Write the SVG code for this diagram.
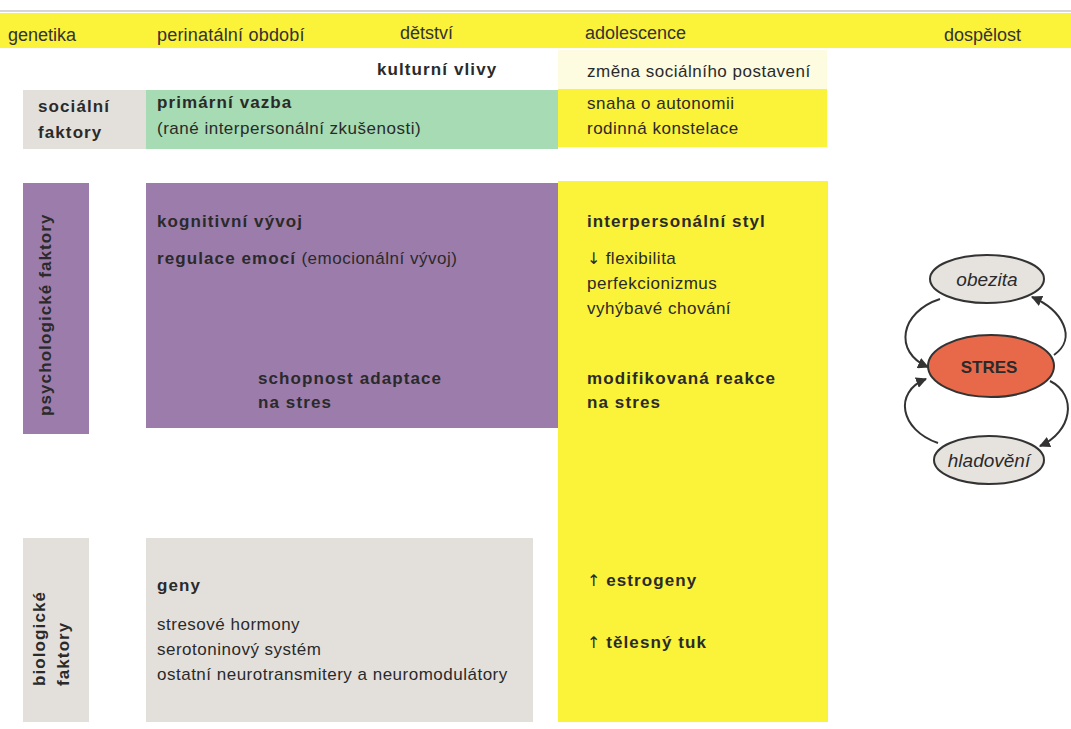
<svg xmlns="http://www.w3.org/2000/svg" width="1071" height="729" viewBox="0 0 1071 729">
<style>
text{font-family:"Liberation Sans",Arial,sans-serif;fill:#2a2a2a;font-size:17px}
.h{font-size:18px;fill:#333}
.b{font-weight:bold;letter-spacing:1.1px}
.n{letter-spacing:0.5px}
.i{font-style:italic;font-size:19px}
.arr{font-family:"DejaVu Sans",sans-serif;font-weight:normal;font-size:16px;letter-spacing:0}
.yel{fill:#fbf23a}
.pale{fill:#fdfbe0}
.gray{fill:#e3e0dc}
.pur{fill:#9c7cab}
.grn{fill:#a6dbb3}
.conn{fill:none;stroke:#333;stroke-width:2}
</style>
<defs>
<marker id="ah" viewBox="0 0 10 10" refX="9" refY="5" markerWidth="11" markerHeight="11" orient="auto" markerUnits="userSpaceOnUse">
<path d="M0,0 L10,5 L0,10 z" fill="#333"/>
</marker>
</defs>
<rect width="1071" height="729" fill="#ffffff"/>
<line x1="0" y1="11" x2="1071" y2="11" stroke="#c8c8c8" stroke-width="1.5"/>
<g id="header">
<rect x="0" y="13" width="1071" height="35" class="yel"/>
<text x="8" y="41" class="h">genetika</text>
<text x="157" y="41" class="h" style="letter-spacing:0.2px">perinatální období</text>
<text x="400" y="39" class="h">dětství</text>
<text x="585" y="39" class="h">adolescence</text>
<text x="944" y="41" class="h">dospělost</text>
</g>
<g id="kulturni">
<text x="377" y="75" class="b">kulturní vlivy</text>
</g>
<g id="zmena">
<rect x="558" y="50" width="269" height="39" class="pale"/>
<text x="587" y="77" class="n">změna sociálního postavení</text>
</g>
<g id="socialni-label">
<rect x="23" y="90" width="123" height="59" class="gray"/>
<text x="38" y="112" class="b">sociální</text>
<text x="38" y="138" class="b">faktory</text>
</g>
<g id="primarni-vazba">
<rect x="146" y="90" width="412" height="59" class="grn"/>
<text x="157" y="108" class="b">primární vazba</text>
<text x="157" y="134" class="n">(rané interpersonální zkušenosti)</text>
</g>
<g id="autonomie">
<rect x="558" y="89" width="269" height="58" class="yel"/>
<text x="587" y="109" class="n">snaha o autonomii</text>
<text x="587" y="134" class="n">rodinná konstelace</text>
</g>
<g id="psych-label">
<rect x="23" y="183" width="66" height="251" class="pur"/>
<text transform="translate(51,416) rotate(-90)" class="b">psychologické faktory</text>
</g>
<g id="psych-main">
<rect x="146" y="183" width="412" height="245" class="pur"/>
<text x="157" y="227" class="b">kognitivní vývoj</text>
<text x="157" y="264"><tspan class="b">regulace emocí</tspan><tspan class="n"> (emocionální vývoj)</tspan></text>
<text x="258" y="384" class="b">schopnost adaptace</text>
<text x="258" y="408" class="b">na stres</text>
</g>
<g id="adolescence-col">
<rect x="558" y="181" width="270" height="541" class="yel"/>
<text x="587" y="227" class="b">interpersonální styl</text>
<text x="587" y="264" class="n"><tspan class="arr">↓</tspan> flexibilita</text>
<text x="587" y="289" class="n">perfekcionizmus</text>
<text x="587" y="314" class="n">vyhýbavé chování</text>
<text x="587" y="384" class="b">modifikovaná reakce</text>
<text x="587" y="408" class="b">na stres</text>
<text x="587" y="586" class="b"><tspan class="arr">↑</tspan> estrogeny</text>
<text x="587" y="648" class="b"><tspan class="arr">↑</tspan> tělesný tuk</text>
</g>
<g id="bio-label">
<rect x="23" y="538" width="66" height="184" class="gray"/>
<text transform="translate(45,686) rotate(-90)" class="b">biologické</text>
<text transform="translate(69,686) rotate(-90)" class="b">faktory</text>
</g>
<g id="bio-main">
<rect x="146" y="538" width="387" height="184" class="gray"/>
<text x="157" y="591" class="b">geny</text>
<text x="157" y="630" class="n">stresové hormony</text>
<text x="157" y="655" class="n">serotoninový systém</text>
<text x="157" y="680" class="n">ostatní neurotransmitery a neuromodulátory</text>
</g>
<g id="obezita">
<ellipse cx="987" cy="279" rx="57" ry="24" fill="#e6e3df" stroke="#333" stroke-width="2"/>
<text x="987" y="286" text-anchor="middle" class="i">obezita</text>
</g>
<g id="stres">
<ellipse cx="991" cy="366" rx="63" ry="31" fill="#e8694a" stroke="#333" stroke-width="2"/>
<text x="989" y="373" text-anchor="middle" style="font-weight:bold;font-size:17px">STRES</text>
</g>
<g id="hladoveni">
<ellipse cx="989" cy="460" rx="55" ry="24" fill="#e6e3df" stroke="#333" stroke-width="2"/>
<text x="989" y="467" text-anchor="middle" class="i">hladovění</text>
</g>
<g id="connectors">
<path class="conn" d="M940,299 C900,312 893,352 928,367" marker-end="url(#ah)"/>
<path class="conn" d="M1054,355 C1078,338 1062,310 1032,297" marker-end="url(#ah)"/>
<path class="conn" d="M938,443 C900,430 893,392 926,379" marker-end="url(#ah)"/>
<path class="conn" d="M1050,381 C1078,395 1072,432 1040,446" marker-end="url(#ah)"/>
</g>
</svg>
